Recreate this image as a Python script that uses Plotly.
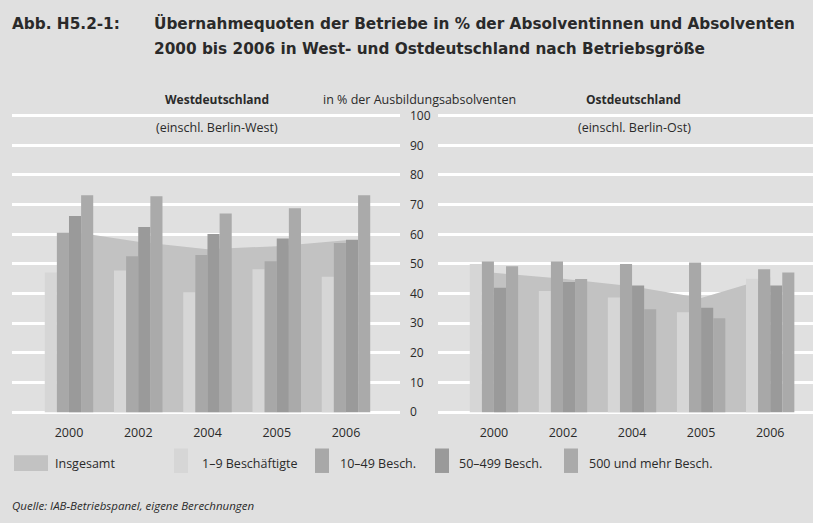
import plotly.graph_objects as go

# --- data ---
years = ["2000", "2002", "2004", "2005", "2006"]
series_names = ["1–9 Beschäftigte", "10–49 Besch.", "50–499 Besch.", "500 und mehr Besch."]

west_total = [61.0, 57.5, 55.0, 56.0, 58.0]
west_1_9 = [47.1, 47.8, 40.5, 48.2, 45.7]
west_10_49 = [60.5, 52.6, 53.0, 50.9, 57.1]
west_50_499 = [66.2, 62.5, 60.1, 58.6, 58.2]
west_500 = [73.2, 72.8, 67.0, 68.8, 73.2]

east_total = [47.0, 45.0, 42.5, 38.5, 45.5]
east_1_9 = [50.0, 40.9, 38.7, 33.7, 45.0]
east_10_49 = [50.8, 50.8, 50.0, 50.5, 48.2]
east_50_499 = [42.0, 43.9, 42.7, 35.2, 42.7]
east_500 = [49.2, 44.9, 34.7, 31.7, 47.1]

W, H = 813, 523
BG = "#e0e0e0"
TXT = "#2a2a2a"
AREA = "#c2c2c2"
BAR_COLORS = ["#d6d6d6", "#a8a8a8", "#9a9a9a", "#aaaaaa"]
FONT = "Open Sans"


def px_x(v):
    return v / W


def px_y(v):
    return 1 - v / H


pos = list(range(len(years)))
fig = go.Figure()

panels = [
    ("x", "y", "y3", west_total, [west_1_9, west_10_49, west_50_499, west_500]),
    ("x2", "y2", "y4", east_total, [east_1_9, east_10_49, east_50_499, east_500]),
]
for xa, ya, ybar, total, bars in panels:
    # area sits on the base axis, bars on an overlaying axis so they draw on top
    fig.add_trace(go.Scatter(
        x=pos, y=total, xaxis=xa, yaxis=ya, mode="lines", fill="tozeroy",
        line=dict(width=0, color=AREA), fillcolor=AREA,
        name="Insgesamt", showlegend=False,
    ))
    for i, vals in enumerate(bars):
        fig.add_trace(go.Bar(
            x=pos, y=vals, xaxis=xa, yaxis=ybar, name=series_names[i],
            marker=dict(color=BAR_COLORS[i], line=dict(width=0)),
            showlegend=False,
        ))

ydom = [px_y(418), px_y(109)]
yrange = [-1, 101]
common_y = dict(range=yrange, domain=ydom, dtick=10, showgrid=True, gridcolor="white",
                gridwidth=2.5, zeroline=False, showline=False, ticks="")
xcommon = dict(tickvals=pos, ticktext=years, showgrid=False, zeroline=False,
               ticks="", ticklabelstandoff=8, tickfont=dict(size=12.5))
fig.update_layout(
    width=W, height=H,
    margin=dict(l=0, r=0, t=0, b=0),
    paper_bgcolor=BG, plot_bgcolor=BG,
    barmode="group", bargap=0.3, bargroupgap=0,
    font=dict(family=FONT, size=12, color=TXT),
    showlegend=False,
    xaxis=dict(domain=[px_x(12), px_x(400)], range=[-0.823, 4.78], **xcommon),
    xaxis2=dict(domain=[px_x(438), 1.0], range=[-0.81, 4.62], **xcommon),
    yaxis=dict(**common_y, side="right", ticklabelstandoff=9, tickfont=dict(size=12)),
    yaxis2=dict(**common_y, anchor="x2", showticklabels=False),
    yaxis3=dict(range=yrange, domain=ydom, overlaying="y", showgrid=False,
                showticklabels=False, zeroline=False),
    yaxis4=dict(range=yrange, domain=ydom, overlaying="y2", anchor="x2",
                showgrid=False, showticklabels=False, zeroline=False),
)

# legend row (swatch box in px, label start in px)
legend_items = [
    ("Insgesamt", AREA, (14, 48, 459, 475), 53),
    (series_names[0], BAR_COLORS[0], (174, 188, 452, 477), 200),
    (series_names[1], BAR_COLORS[1], (315, 329, 452, 477), 338),
    (series_names[2], BAR_COLORS[2], (435, 449, 452, 477), 457),
    (series_names[3], BAR_COLORS[3], (564, 578, 452, 477), 587),
]
for label, color, (x0, x1, y0, y1), tx in legend_items:
    fig.add_shape(type="rect", xref="paper", yref="paper",
                  x0=px_x(x0), x1=px_x(x1), y0=px_y(y1), y1=px_y(y0),
                  fillcolor=color, line=dict(width=0), layer="above")
    fig.add_annotation(text=label, x=px_x(tx), y=px_y(467), xref="paper", yref="paper",
                       xanchor="left", yanchor="middle", showarrow=False,
                       font=dict(size=12.5, family=FONT, color=TXT))

ann = [
    ("<b>Abb. H5.2-1:</b>", 10, 18, "left", 15.3, "DejaVu Sans"),
    ("<b>Übernahmequoten der Betriebe in % der Absolventinnen und Absolventen</b>", 152, 18, "left", 15.3, "DejaVu Sans"),
    ("<b>2000 bis 2006 in West- und Ostdeutschland nach Betriebsgröße</b>", 152, 44, "left", 15.3, "DejaVu Sans"),
    ("<b>Westdeutschland</b>", 217, 96, "center", 12, FONT),
    ("(einschl. Berlin-West)", 217, 124, "center", 12.5, FONT),
    ("in % der Ausbildungsabsolventen", 419, 96, "center", 12.5, FONT),
    ("<b>Ostdeutschland</b>", 633, 96, "center", 12, FONT),
    ("(einschl. Berlin-Ost)", 634, 124, "center", 12.5, FONT),
    ("<i>Quelle: IAB-Betriebspanel, eigene Berechnungen</i>", 10, 510, "left", 11.5, FONT),
]
for text, x, y, anchor, size, fam in ann:
    fig.add_annotation(text=text, x=px_x(x), y=px_y(y), xref="paper", yref="paper",
                       xanchor=anchor, yanchor="middle", showarrow=False,
                       font=dict(size=size, family=fam, color=TXT))

fig.write_html("out.html", config={"displayModeBar": False},
               post_script="document.body.style.margin='0';")
